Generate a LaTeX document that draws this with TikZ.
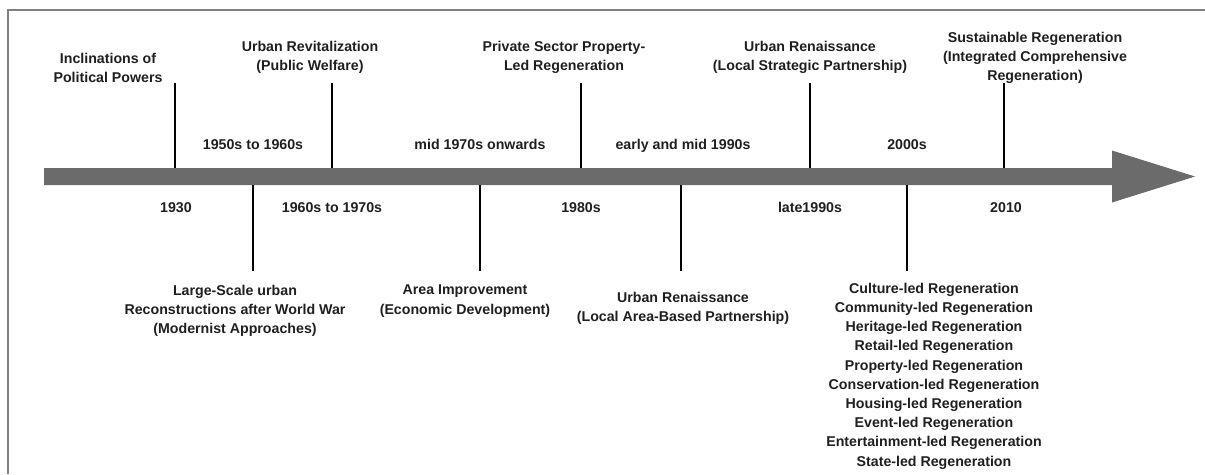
\documentclass[tikz,border=0pt]{standalone}
\usepackage{fontspec}
\setmainfont{Liberation Sans}
\begin{document}
\begin{tikzpicture}[x=1pt,y=-1pt,
  lbl/.style={font=\bfseries\fontsize{14.2}{19.2}\selectfont, text=black!88, align=center, inner sep=0pt},
  tick/.style={line width=2pt, black},
  frame/.style={line width=2pt, black!50},
  timeline/.style={fill=black!58}]
\useasboundingbox (0,0) rectangle (1205,474);
% frame
\draw[frame] (8,474) -- (8,10) -- (1205,10);
% timeline arrow
\fill[timeline] (44,168) -- (1112,168) -- (1112,150.5) -- (1195,176.5) -- (1112,202.5) -- (1112,185) -- (44,185) -- cycle;
% upper ticks
\coordinate (u1t) at (175,83);  \coordinate (u1b) at (175,168);
\coordinate (u2t) at (332,83);  \coordinate (u2b) at (332,168);
\coordinate (u3t) at (581,83);  \coordinate (u3b) at (581,168);
\coordinate (u4t) at (810,83);  \coordinate (u4b) at (810,168);
\coordinate (u5t) at (1004,83); \coordinate (u5b) at (1004,168);
\draw[tick] (u1t) -- (u1b);
\draw[tick] (u2t) -- (u2b);
\draw[tick] (u3t) -- (u3b);
\draw[tick] (u4t) -- (u4b);
\draw[tick] (u5t) -- (u5b);
% lower ticks
\coordinate (d1t) at (253,185); \coordinate (d1b) at (253,271);
\coordinate (d2t) at (480,185); \coordinate (d2b) at (480,271);
\coordinate (d3t) at (681,185); \coordinate (d3b) at (681,271);
\coordinate (d4t) at (907,185); \coordinate (d4b) at (907,271);
\draw[tick] (d1t) -- (d1b);
\draw[tick] (d2t) -- (d2b);
\draw[tick] (d3t) -- (d3b);
\draw[tick] (d4t) -- (d4b);
% upper labels
\node[lbl] (incl) at (108,68) {Inclinations of\\Political Powers};
\node[lbl] (revit) at (310,57) {Urban Revitalization\\(Public Welfare)};
\node[lbl] (priv) at (564,57) {Private Sector Property-\\Led Regeneration};
\node[lbl] (rens) at (810,57) {Urban Renaissance\\(Local Strategic Partnership)};
\node[lbl] (sust) at (1035,57.6) {Sustainable Regeneration\\(Integrated Comprehensive\\Regeneration)};
% period labels above the line
\node[lbl,anchor=base] (p1) at (253,149) {1950s to 1960s};
\node[lbl,anchor=base] (p2) at (480,149) {mid 1970s onwards};
\node[lbl,anchor=base] (p3) at (683,149) {early and mid 1990s};
\node[lbl,anchor=base] (p4) at (907,149) {2000s};
% period labels below the line
\node[lbl,anchor=base] (q1) at (176,212) {1930};
\node[lbl,anchor=base] (q2) at (332,212) {1960s to 1970s};
\node[lbl,anchor=base] (q3) at (581,212) {1980s};
\node[lbl,anchor=base] (q4) at (810,212) {late1990s};
\node[lbl,anchor=base] (q5) at (1006,212) {2010};
% lower labels
\node[lbl] (large) at (235,310.7) {Large-Scale urban\\Reconstructions after World War\\(Modernist Approaches)};
\node[lbl] (area) at (465,301) {Area Improvement\\(Economic Development)};
\node[lbl] (renl) at (683,308) {Urban Renaissance\\(Local Area-Based Partnership)};
\node[lbl] (list) at (934,376) {Culture-led Regeneration\\Community-led Regeneration\\Heritage-led Regeneration\\Retail-led Regeneration\\Property-led Regeneration\\Conservation-led Regeneration\\Housing-led Regeneration\\Event-led Regeneration\\Entertainment-led Regeneration\\State-led Regeneration};
\end{tikzpicture}
\end{document}
